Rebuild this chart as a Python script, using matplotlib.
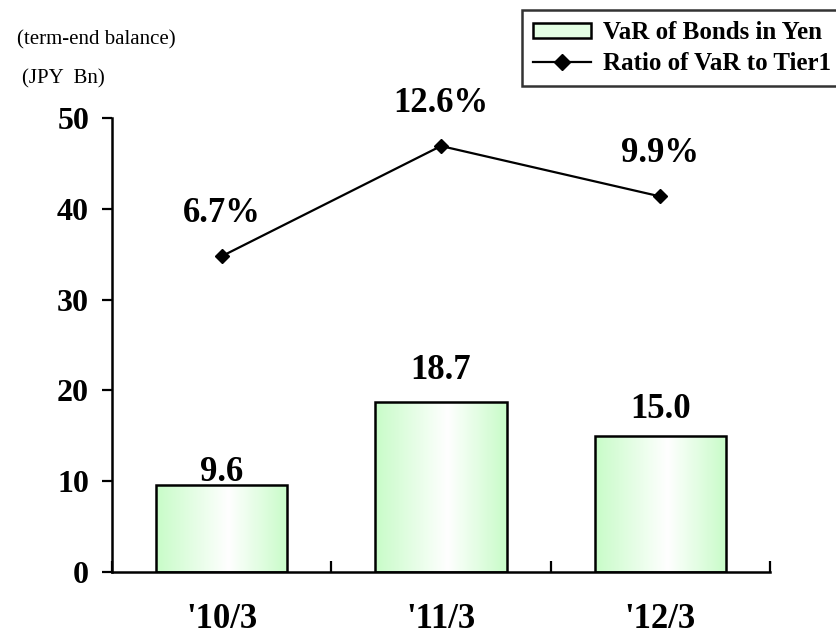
import numpy as np
import matplotlib.pyplot as plt
from matplotlib.colors import LinearSegmentedColormap
from matplotlib.patches import Patch
from matplotlib.lines import Line2D

periods = ["'10/3", "'11/3", "'12/3"]
var_yen = [9.6, 18.7, 15.0]
ratio_tier1 = [6.7, 12.6, 9.9]
bar_label_gap = [1.4, 3.5, 2.9]

plt.rcParams['font.family'] = ['Liberation Serif', 'DejaVu Serif']

fig = plt.figure(figsize=(8.36, 6.36), dpi=100)
ax = fig.add_axes([0.134, 0.1006, 0.787, 0.7139])

x = np.arange(len(periods))
w = 0.6
green_white = LinearSegmentedColormap.from_list(
    'gw', [(0, '#c8fcc8'), (0.55, '#ffffff'), (1, '#c8fcc8')])
grad = np.linspace(0, 1, 256).reshape(1, -1)

bars = ax.bar(x, var_yen, width=w, facecolor='none', edgecolor='black',
              linewidth=1.8, zorder=3)
for b in bars:
    x0, y0 = b.get_x(), b.get_y()
    im = ax.imshow(grad, cmap=green_white, aspect='auto', zorder=2,
                   extent=[x0, x0 + b.get_width(), y0, y0 + b.get_height()])
    im.set_clip_path(b)

for xi, v, g in zip(x, var_yen, bar_label_gap):
    ax.text(xi, v + g, f'{v:.1f}', ha='center', va='center',
            fontsize=25, fontweight='bold')

ax.set_xlim(-0.5, 2.5)
ax.set_ylim(0, 50)
ax.set_yticks(range(0, 51, 10))
ax.set_xticks(x)
ax.set_xticklabels(periods)
ax.set_xticks([-0.5, 0.5, 1.5, 2.5], minor=True)
ax.tick_params(axis='x', which='major', length=0, pad=22, labelsize=25)
ax.tick_params(axis='x', which='minor', direction='in', length=8, width=1.6)
ax.tick_params(axis='y', direction='out', length=7, width=1.6, pad=9.5,
               labelsize=23)
for t in ax.get_xticklabels() + ax.get_yticklabels():
    t.set_fontweight('bold')
for s in ['top', 'right']:
    ax.spines[s].set_visible(False)
for s in ['left', 'bottom']:
    ax.spines[s].set_linewidth(1.8)

# ratio of VaR to Tier1 on a hidden secondary scale
ax2 = ax.twinx()
ax2.set_ylim(-10.2, 14.1)
ax2.axis('off')
ax2.plot(x, ratio_tier1, color='black', linewidth=1.6, marker='D',
         markersize=7.5, zorder=4)
for xi, r in zip(x, ratio_tier1):
    ax2.annotate(f'{r:.1f}%', (xi, r), xytext=(0, 43),
                 textcoords='offset pixels', ha='center', va='center',
                 fontsize=25, fontweight='bold')

fig.text(17 / 836, 1 - 40 / 636, '(term-end balance)', fontsize=15,
         va='center')
fig.text(22 / 836, 1 - 79 / 636, '(JPY  Bn)', fontsize=15, va='center')

handles = [Patch(facecolor='#e4ffe4', edgecolor='black', linewidth=1.8),
           Line2D([], [], color='black', linewidth=1.6, marker='D',
                  markersize=8)]
leg = fig.legend(handles, ['VaR of Bonds in Yen', 'Ratio of VaR to Tier1'],
                 loc='upper left', bbox_to_anchor=(522 / 836, 1 - 10 / 636),
                 borderaxespad=0, frameon=True, fancybox=False,
                 edgecolor='black', borderpad=0.45, labelspacing=0.3,
                 handlelength=2.3, handleheight=0.55, handletextpad=0.5,
                 prop={'family': 'Liberation Serif', 'weight': 'bold',
                       'size': 18})
leg.get_frame().set_linewidth(1.8)

fig.savefig('out.png', dpi=100)
